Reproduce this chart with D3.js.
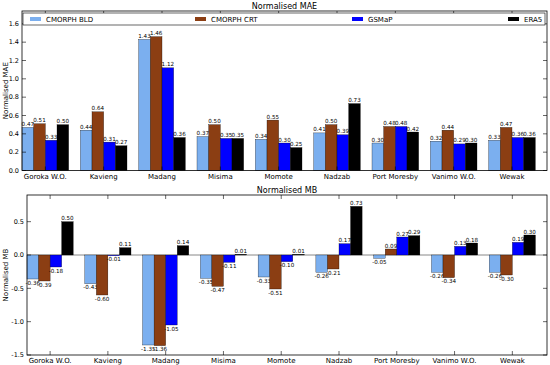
<!DOCTYPE html>
<html><head><meta charset="utf-8">
<script src="https://cdn.jsdelivr.net/npm/d3@7"></script>
<style>body{margin:0;background:#fff}svg{display:block}text{font-family:"DejaVu Sans",sans-serif}</style>
</head><body><svg id="c" width="550" height="365"></svg>
<script>
const stations = ["Goroka W.O.","Kavieng","Madang","Misima","Momote","Nadzab","Port Moresby","Vanimo W.O.","Wewak"];
const seriesNames = ["CMORPH BLD","CMORPH CRT","GSMaP","ERA5"];
const seriesColors = ["#7BAFEF","#8B3E13","#0000FF","#000000"];
const maeBLD = [0.47,0.44,1.43,0.37,0.34,0.41,0.30,0.32,0.33];
const maeCRT = [0.51,0.64,1.46,0.50,0.55,0.50,0.48,0.44,0.47];
const maeGSM = [0.33,0.31,1.12,0.35,0.30,0.39,0.48,0.29,0.36];
const maeERA = [0.50,0.27,0.36,0.35,0.25,0.73,0.42,0.30,0.36];
const mbBLD = [-0.36,-0.43,-1.35,-0.35,-0.33,-0.26,-0.05,-0.26,-0.26];
const mbCRT = [-0.39,-0.60,-1.36,-0.47,-0.51,-0.21,0.09,-0.34,-0.30];
const mbGSM = [-0.18,-0.01,-1.05,-0.11,-0.10,0.17,0.27,0.13,0.19];
const mbERA = [0.50,0.11,0.14,0.01,0.01,0.73,0.29,0.18,0.30];
const maeTicks = [0,0.2,0.4,0.6,0.8,1.0,1.2,1.4,1.6];
const mbTicks = [-1.5,-1.0,-0.5,0.0,0.5];

const svg = d3.select("#c");

function panel(opts){
  const {left,right,top,bottom,domain,ticks,series,title,ylabel,legend,zero} = opts;
  const g = svg.append("g");
  const x = d3.scaleLinear().domain([0,9]).range([left,right]);
  const y = d3.scaleLinear().domain(domain).range([bottom,top]);
  const w = 0.2;
  if(zero){
    g.append("line").attr("x1",left).attr("x2",right).attr("y1",y(0)).attr("y2",y(0))
      .attr("stroke","#888").attr("stroke-width",1);
  }
  series.forEach((vals,k)=>{
    vals.forEach((v,i)=>{
      const x0 = x(i + k*w), x1 = x(i + (k+1)*w);
      const y0 = y(Math.max(0,v)), y1 = y(Math.min(0,v));
      g.append("rect").attr("x",x0).attr("y",y0).attr("width",x1-x0).attr("height",Math.max(0,y1-y0))
        .attr("fill",seriesColors[k]).attr("stroke","#000").attr("stroke-width",0.3);
      const cx = (x0+x1)/2;
      g.append("text").attr("x",cx).attr("y", v>=0 ? y(v)-1.5 : y(v)+5.8)
        .attr("text-anchor","middle").attr("font-size",5.6).attr("fill","#000").text(v.toFixed(2));
    });
  });
  g.append("rect").attr("x",left).attr("y",top).attr("width",right-left).attr("height",bottom-top)
    .attr("fill","none").attr("stroke","#000").attr("stroke-width",0.8);
  ticks.forEach(t=>{
    const yy = y(t);
    g.append("line").attr("x1",left).attr("x2",left+4).attr("y1",yy).attr("y2",yy).attr("stroke","#000").attr("stroke-width",0.6);
    g.append("line").attr("x1",right).attr("x2",right-4).attr("y1",yy).attr("y2",yy).attr("stroke","#000").attr("stroke-width",0.6);
    g.append("text").attr("x",left-3).attr("y",yy+2.3).attr("text-anchor","end").attr("font-size",6.5).text(t.toFixed(1));
  });
  stations.forEach((s,i)=>{
    const xx = x(i+0.4);
    g.append("line").attr("x1",xx).attr("x2",xx).attr("y1",bottom).attr("y2",bottom-4).attr("stroke","#000").attr("stroke-width",0.6);
    g.append("line").attr("x1",xx).attr("x2",xx).attr("y1",top).attr("y2",top+4).attr("stroke","#000").attr("stroke-width",0.6);
    g.append("text").attr("x",xx).attr("y",bottom+8).attr("text-anchor","middle").attr("font-size",7).text(s);
  });
  svg.append("text").attr("x",(left+right)/2).attr("y",top-2.5).attr("text-anchor","middle").attr("font-size",8).text(title);
  svg.append("text").attr("transform",`translate(8,${(top+bottom)/2}) rotate(-90)`).attr("text-anchor","middle").attr("font-size",7).text(ylabel);
  if(legend){
    const ly0 = top+2, lh = 12;
    g.append("rect").attr("x",left+1).attr("y",ly0).attr("width",right-left-3).attr("height",lh)
      .attr("fill","#fff").attr("stroke","#000").attr("stroke-width",0.6);
    const lx = [30,195,352,508];
    seriesNames.forEach((n,k)=>{
      g.append("rect").attr("x",lx[k]).attr("y",ly0+4).attr("width",11).attr("height",4).attr("fill",seriesColors[k]);
      g.append("text").attr("x",lx[k]+16).attr("y",ly0+8.5).attr("font-size",7).text(n);
    });
  }
}

panel({left:22,right:547,top:11,bottom:170.5,domain:[0,1.74],ticks:maeTicks,
  series:[maeBLD,maeCRT,maeGSM,maeERA],title:"Normalised MAE",ylabel:"Normalised MAE",legend:true,zero:false});
panel({left:27,right:547,top:195,bottom:355,domain:[-1.5,0.9],ticks:mbTicks,
  series:[mbBLD,mbCRT,mbGSM,mbERA],title:"Normalised MB",ylabel:"Normalised MB",legend:false,zero:true});
</script></body></html>
